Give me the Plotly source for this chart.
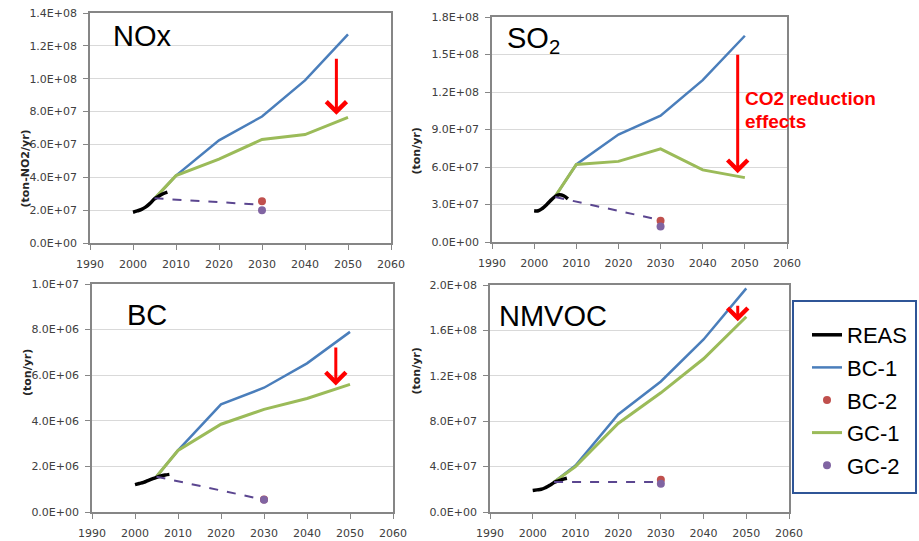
import plotly.graph_objects as go

# ---------------- data ----------------
years_reas = [2000, 2001, 2002, 2003, 2004, 2005, 2006, 2007, 2008]
years_proj = [2005, 2010, 2020, 2030, 2040, 2050]
years_dash = [2005, 2030]
year_point = [2030]

nox_reas = [1.87e7, 1.95e7, 2.05e7, 2.2e7, 2.42e7, 2.68e7, 2.85e7, 3.0e7, 3.1e7]
nox_bc1 = [2.7e7, 4.1e7, 6.25e7, 7.7e7, 9.9e7, 12.7e7]
nox_gc1 = [2.7e7, 4.1e7, 5.1e7, 6.3e7, 6.6e7, 7.65e7]
nox_dash = [2.72e7, 2.33e7]
nox_bc2 = [2.54e7]
nox_gc2 = [2.0e7]

so2_reas = [2.5e7, 2.5e7, 2.7e7, 3.0e7, 3.35e7, 3.65e7, 3.78e7, 3.7e7, 3.45e7]
so2_bc1 = [3.65e7, 6.2e7, 8.6e7, 10.1e7, 12.95e7, 16.5e7]
so2_gc1 = [3.65e7, 6.2e7, 6.45e7, 7.45e7, 5.77e7, 5.15e7]
so2_dash = [3.6e7, 1.75e7]
so2_bc2 = [1.7e7]
so2_gc2 = [1.25e7]

bc_reas = [1.2e6, 1.25e6, 1.3e6, 1.38e6, 1.45e6, 1.52e6, 1.58e6, 1.62e6, 1.65e6]
bc_bc1 = [1.56e6, 2.7e6, 4.72e6, 5.45e6, 6.52e6, 7.9e6]
bc_gc1 = [1.56e6, 2.7e6, 3.85e6, 4.5e6, 4.98e6, 5.6e6]
bc_dash = [1.55e6, 0.54e6]
bc_bc2 = [0.55e6]
bc_gc2 = [0.54e6]

nm_reas = [1.9e7, 1.95e7, 2.0e7, 2.15e7, 2.35e7, 2.6e7, 2.75e7, 2.88e7, 2.98e7]
nm_bc1 = [2.64e7, 4.1e7, 8.6e7, 11.5e7, 15.2e7, 19.7e7]
nm_gc1 = [2.64e7, 4.0e7, 7.8e7, 10.5e7, 13.5e7, 17.2e7]
nm_dash = [2.64e7, 2.64e7]
nm_bc2 = [2.84e7]
nm_gc2 = [2.5e7]

panel_names = ["NOx", "SO<sub>2</sub>", "BC", "NMVOC"]
y_titles = ["(ton-NO2/yr)", "(ton/yr)", "(ton/yr)", "(ton/yr)"]
y_max = [1.4e8, 1.8e8, 1.0e7, 2.0e8]
y_step = [2e7, 3e7, 2e6, 4e7]
x_ticks = [1990, 2000, 2010, 2020, 2030, 2040, 2050, 2060]

# arrows: (year, tail value, head value)
arrows = [(2047.3, 11.3e7, 7.8e7), (2048.3, 15.1e7, 5.5e7),
          (2046.7, 7.28e6, 5.55e6), (2048.0, 18.3e7, 16.8e7)]
series = [
    (nox_reas, nox_bc1, nox_gc1, nox_dash, nox_bc2, nox_gc2),
    (so2_reas, so2_bc1, so2_gc1, so2_dash, so2_bc2, so2_gc2),
    (bc_reas, bc_bc1, bc_gc1, bc_dash, bc_bc2, bc_gc2),
    (nm_reas, nm_bc1, nm_gc1, nm_dash, nm_bc2, nm_gc2),
]

# ---------------- style ----------------
W, H = 919, 541
C_REAS = "#000000"
C_BC1 = "#4a7ebb"
C_BC2 = "#c0504d"
C_GC1 = "#9bbb59"
C_GC2 = "#8064a2"
C_DASH = "#5b4690"
TICKF = dict(family="DejaVu Sans", size=11, color="#404040")

# pixel boxes (left, right, top, bottom)
boxes = [(90, 391, 13, 243), (492, 787, 17, 242), (92, 393, 284, 512), (490, 789, 285, 512)]
ytitle_pos = [(16, 128), (416, 126), (19, 398), (416, 397)]
name_pos = [(111, 36), (505, 40), (125, 315), (497, 316)]

fig = go.Figure()
layout = dict(
    width=W, height=H, margin=dict(l=0, r=0, t=0, b=0),
    paper_bgcolor="white", plot_bgcolor="white", showlegend=True,
)
annotations = []
shapes = []

for i, (reas, bc1, gc1, dash, bc2, gc2) in enumerate(series):
    n = "" if i == 0 else str(i + 1)
    xa, ya = "x" + n, "y" + n
    first = i == 0
    fig.add_trace(go.Scatter(x=years_proj, y=bc1, mode="lines", name="BC-1", legendgroup="b1",
                             line=dict(color=C_BC1, width=2.5), showlegend=first, xaxis=xa, yaxis=ya))
    fig.add_trace(go.Scatter(x=years_proj, y=gc1, mode="lines", name="GC-1", legendgroup="g1",
                             line=dict(color=C_GC1, width=3), showlegend=first, xaxis=xa, yaxis=ya))
    fig.add_trace(go.Scatter(x=years_reas, y=reas, mode="lines", name="REAS", legendgroup="r",
                             line=dict(color=C_REAS, width=3.5, shape="spline"), showlegend=first,
                             xaxis=xa, yaxis=ya))
    fig.add_trace(go.Scatter(x=years_dash, y=dash, mode="lines", showlegend=False,
                             line=dict(color=C_DASH, width=2, dash="dash"), xaxis=xa, yaxis=ya))
    fig.add_trace(go.Scatter(x=year_point, y=bc2, mode="markers", name="BC-2", legendgroup="b2",
                             marker=dict(color=C_BC2, size=8), showlegend=first, xaxis=xa, yaxis=ya))
    fig.add_trace(go.Scatter(x=year_point, y=gc2, mode="markers", name="GC-2", legendgroup="g2",
                             marker=dict(color=C_GC2, size=8), showlegend=first, xaxis=xa, yaxis=ya))

    l, r, t, b = boxes[i]
    yt = [k * y_step[i] for k in range(int(round(y_max[i] / y_step[i])) + 1)]
    layout["xaxis" + n] = dict(
        domain=[l / W, r / W], range=[1990, 2060], tickvals=x_ticks,
        ticktext=[str(v) for v in x_ticks], anchor=ya, showgrid=False, zeroline=False,
        showline=True, linecolor="#868686", linewidth=1.5, mirror=True,
        ticks="outside", ticklen=5, tickcolor="#868686", tickfont=TICKF,
        ticklabelstandoff=5, automargin=False, fixedrange=True,
    )
    layout["yaxis" + n] = dict(
        domain=[1 - b / H, 1 - t / H], range=[0, y_max[i]], tickvals=yt,
        ticktext=[f"{v:.1E}" for v in yt], anchor=xa, showgrid=True, gridcolor="#d9d9d9",
        gridwidth=1, zeroline=False, showline=True, linecolor="#868686", linewidth=1.5,
        mirror=True, ticks="outside", ticklen=5, tickcolor="#868686", tickfont=TICKF,
        ticklabelstandoff=4, automargin=False, fixedrange=True,
    )
    # axis title
    tx, ty = ytitle_pos[i]
    annotations.append(dict(x=tx / W, y=1 - ty / H, xref="paper", yref="paper",
                            text=y_titles[i], textangle=-90, showarrow=False,
                            font=dict(family="DejaVu Sans", size=11, color="#262626", weight="bold")))
    # panel name
    nx, ny = name_pos[i]
    annotations.append(dict(x=nx / W, y=1 - ny / H, xref="paper", yref="paper", xanchor="left",
                            yanchor="middle", text=panel_names[i], showarrow=False,
                            font=dict(family="Liberation Sans", size=29, color="black")))
    # red arrow
    ax_year, tail, head = arrows[i]
    annotations.append(dict(x=ax_year, y=head, ax=ax_year, ay=tail, xref=xa, yref=ya,
                            axref=xa, ayref=ya, text="", showarrow=True, arrowhead=4,
                            arrowsize=1.3, arrowwidth=3, arrowcolor="#ff0000", standoff=0))

# CO2 reduction effects text
annotations.append(dict(x=743 / W, y=1 - 99 / H, xref="paper", yref="paper", xanchor="left",
                        yanchor="middle", text="CO2 reduction", showarrow=False,
                        font=dict(family="Liberation Sans", size=19, color="#ff0000", weight="bold")))
annotations.append(dict(x=743 / W, y=1 - 122 / H, xref="paper", yref="paper", xanchor="left",
                        yanchor="middle", text="effects", showarrow=False,
                        font=dict(family="Liberation Sans", size=19, color="#ff0000", weight="bold")))

# legend frame
shapes.append(dict(type="rect", xref="paper", yref="paper", x0=793 / W, x1=916 / W,
                   y0=1 - 493 / H, y1=1 - 301 / H, line=dict(color="#2f5597", width=2),
                   fillcolor="white", layer="below"))

layout["annotations"] = annotations
layout["shapes"] = shapes
layout["legend"] = dict(
    x=807 / W, y=1 - 314 / H, xanchor="left", yanchor="top", bgcolor="rgba(0,0,0,0)",
    borderwidth=0, font=dict(family="Liberation Sans", size=22, color="black"),
    traceorder="grouped", tracegroupgap=1, itemwidth=30,
)
fig.update_layout(**layout)

# legend order: REAS, BC-1, BC-2, GC-1, GC-2
rank = {"r": 1, "b1": 2, "b2": 3, "g1": 4, "g2": 5}
for tr in fig.data:
    if tr.legendgroup in rank:
        tr.legendrank = rank[tr.legendgroup]

fig.write_html("out.html", config={"displayModeBar": False})
